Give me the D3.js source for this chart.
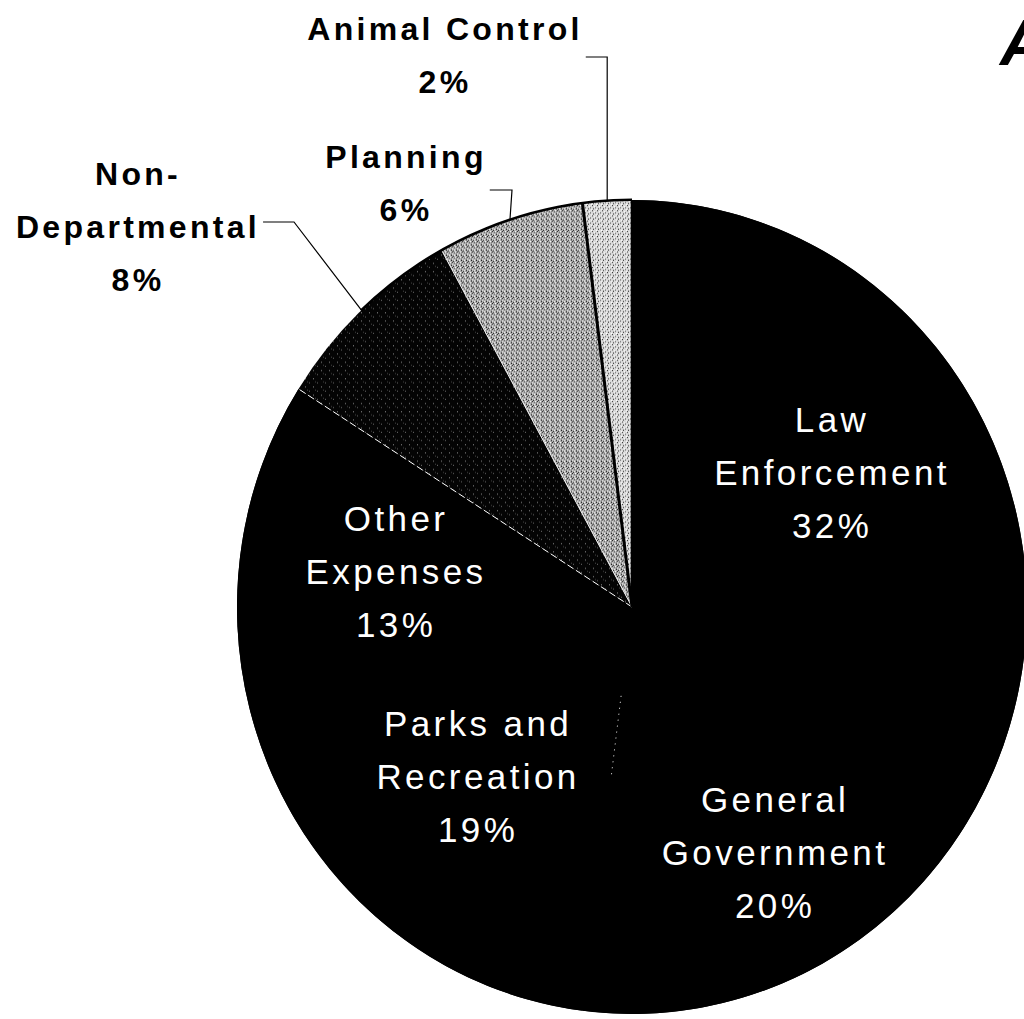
<!DOCTYPE html>
<html>
<head>
<meta charset="utf-8">
<script src="https://cdn.jsdelivr.net/npm/d3@7"></script>
<style>
  html, body { margin: 0; padding: 0; background: #fff; overflow: hidden; }
  svg { display: block; font-family: "Liberation Sans", Arial, Helvetica, sans-serif; }
</style>
</head>
<body>
<svg id="chart" width="1024" height="1019"></svg>
<script>
// ---- data ----
const categories = ["Law Enforcement", "General Government", "Parks and Recreation",
                    "Other Expenses", "Non-Departmental", "Planning", "Animal Control"];
const values = [32, 20, 19, 13, 8, 6, 2];
const labelLines = [["Law", "Enforcement"], ["General", "Government"], ["Parks and", "Recreation"],
                    ["Other", "Expenses"], ["Non-", "Departmental"], ["Planning"], ["Animal Control"]];
const titleText = "A";

// ---- layout / styles (not data) ----
const W = 1024, H = 1019;
const cx = 632, cy = 607, rx = 395, ry = 407;
const fillIds = ["solid", "solid", "solid", "solid", "patNon", "patPlan", "patAnimal"];
// inside label anchor: fraction of radius and angle tweak (degrees)
const insideLabel = [
  { rf: 0.589, da: 1.7 }, { rf: 0.731, da: -0.9 }, { rf: 0.594, da: -0.4 }, { rf: 0.600, da: -3.6 }
];
const outsideLayout = [
  null, null, null, null,
  { x: 138, y: 185, lineY: 222, elbowX: 294 },   // Non-Departmental
  { x: 406, y: 168, lineY: 190, elbowX: 512 },   // Planning
  { x: 445, y: 40,  lineY: 57,  elbowX: null }   // Animal Control
];
const lineH = 53;

const svg = d3.select("#chart");
const defs = svg.append("defs");

// textures
function makePattern(id, base, dots, size) {
  const p = defs.append("pattern").attr("id", id).attr("patternUnits", "userSpaceOnUse")
    .attr("width", size).attr("height", size);
  p.append("rect").attr("width", size).attr("height", size).attr("fill", base);
  dots.forEach(d => p.append("rect").attr("x", d[0]).attr("y", d[1]).attr("width", 1).attr("height", 1).attr("fill", d[2]));
}
makePattern("patNon", "#040404",
  [[1, 2, "#8a8a8a"], [5, 6, "#6a6a6a"], [3, 5, "#444"]], 8);
makePattern("patPlan", "#b0b0b0",
  [[0, 0, "#222"], [2, 1, "#555"], [4, 3, "#000"], [1, 4, "#333"], [3, 0, "#fff"], [0, 2, "#eee"], [4, 1, "#777"], [2, 3, "#fff"]], 5);
makePattern("patAnimal", "#dadada",
  [[0, 0, "#333"], [3, 2, "#555"], [1, 3, "#222"], [4, 4, "#fff"], [2, 1, "#fff"]], 5);

const pie = d3.pie().sort(null).value(d => d)
  .startAngle(0).endAngle(2 * Math.PI);
const arcs = pie(values);

const arc = d3.arc().innerRadius(0).outerRadius(rx);

const g = svg.append("g")
  .attr("transform", `translate(${cx},${cy}) scale(1,${ry / rx})`);

// solid base to avoid anti-aliasing seams between black slices
g.append("path")
  .attr("d", arc({ startAngle: arcs[0].startAngle, endAngle: arcs[3].endAngle }))
  .attr("fill", "#000");

g.selectAll("path.slice").data(arcs).enter().append("path")
  .attr("class", "slice")
  .attr("d", arc)
  .attr("fill", (d, i) => fillIds[i] === "solid" ? "#000" : `url(#${fillIds[i]})`)
  .attr("stroke", "none");

// separators (boundary at the start of slice i), r0/r1 as fractions of radius
function edgePoint(angle, r) {
  return [Math.sin(angle) * r, -Math.cos(angle) * r];
}
const sepStyle = [
  { c: "#000", w: 2.5, dash: null, r0: 0, r1: 1 },        // Animal | Law (top)
  null,                                                    // Law | General Government
  { c: "#fff", w: 1, dash: "1,5", r0: 0.22, r1: 0.42 },   // General Government | Parks
  null,                                                    // Parks | Other
  { c: "#fff", w: 1, dash: "7,3", r0: 0, r1: 1 },         // Other | Non-Departmental
  { c: "#eee", w: 1, dash: null, r0: 0, r1: 1 },          // Non-Departmental | Planning
  { c: "#000", w: 3, dash: null, r0: 0, r1: 1 }           // Planning | Animal Control
];
arcs.forEach((a, i) => {
  const s = sepStyle[i];
  if (!s) return;
  const p0 = edgePoint(a.startAngle, rx * s.r0);
  const p1 = edgePoint(a.startAngle, rx * s.r1);
  g.append("line").attr("x1", p0[0]).attr("y1", p0[1]).attr("x2", p1[0]).attr("y2", p1[1])
    .attr("stroke", s.c).attr("stroke-width", s.w)
    .attr("vector-effect", "non-scaling-stroke")
    .attr("stroke-dasharray", s.dash);
});

// outer outline across the light slices
const outline = d3.arc().innerRadius(rx - 1).outerRadius(rx + 1.5);
g.append("path")
  .attr("d", outline({ startAngle: arcs[4].startAngle + 0.25, endAngle: arcs[6].endAngle }))
  .attr("fill", "#000");

// inside labels (white)
arcs.forEach((a, i) => {
  if (outsideLayout[i]) return;
  const L = insideLabel[i];
  const mid = (a.startAngle + a.endAngle) / 2 + L.da * Math.PI / 180;
  const r = rx * L.rf;
  const x = cx + Math.sin(mid) * r;
  const y = cy - Math.cos(mid) * r * (ry / rx);
  const lines = labelLines[i].concat([values[i] + "%"]);
  const t = svg.append("text")
    .attr("text-anchor", "middle")
    .attr("fill", "#fff")
    .attr("font-size", 35)
    .attr("letter-spacing", 3.4);
  lines.forEach((ln, k) => {
    t.append("tspan").attr("x", x).attr("y", y + (k - 1) * lineH).text(ln);
  });
});

// outside labels (bold black) with leader lines
arcs.forEach((a, i) => {
  const L = outsideLayout[i];
  if (!L) return;
  const lines = labelLines[i].concat([values[i] + "%"]);
  const t = svg.append("text")
    .attr("text-anchor", "middle")
    .attr("fill", "#000")
    .attr("font-weight", "bold")
    .attr("font-size", 32)
    .attr("letter-spacing", 3.3);
  const spans = [];
  lines.forEach((ln, k) => {
    spans.push(t.append("tspan").attr("x", L.x).attr("y", L.y + k * lineH).text(ln));
  });
  // leader: starts right of the widest line that sits above the leader
  const mid = (a.startAngle + a.endAngle) / 2;
  const ex = cx + Math.sin(mid) * rx;
  const ey = cy - Math.cos(mid) * ry;
  let right = 0;
  spans.forEach(s => {
    const bb = s.node().getBBox();
    if (bb.y < L.lineY) right = Math.max(right, bb.x + bb.width);
  });
  const x0 = right + 3;
  const elbowX = L.elbowX == null ? ex : L.elbowX;
  svg.append("path")
    .attr("d", `M${x0},${L.lineY}H${elbowX}L${ex},${ey}`)
    .attr("fill", "none").attr("stroke", "#000").attr("stroke-width", 1.2);
});

// title (cut off at the right edge, as in the source)
svg.append("text")
  .attr("x", 1000).attr("y", 65)
  .attr("font-size", 64).attr("font-weight", "bold").attr("font-style", "italic")
  .attr("fill", "#000")
  .text(titleText);
</script>
</body>
</html>
